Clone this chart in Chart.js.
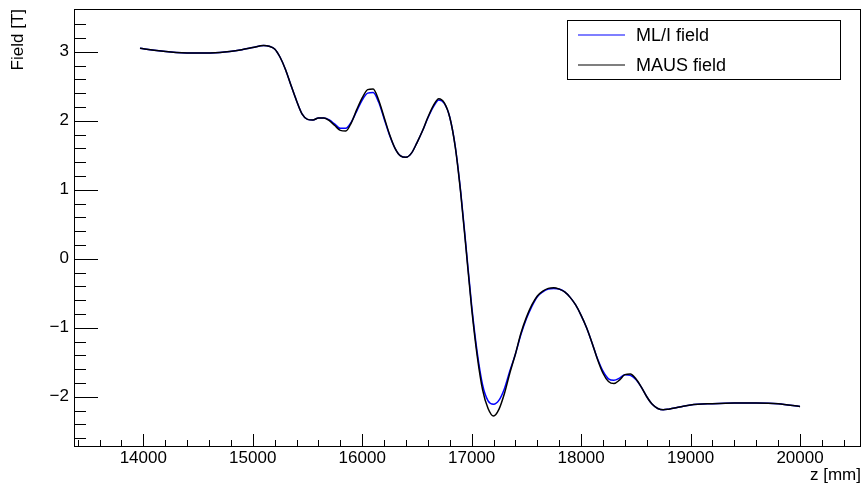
<!DOCTYPE html>
<html>
<head>
<meta charset="utf-8">
<script src="https://cdn.jsdelivr.net/npm/chart.js@4.4.1/dist/chart.umd.min.js"></script>
<style>
  body { margin: 0; background: #fff; }
</style>
</head>
<body>
<canvas id="fieldChart" width="862" height="486"></canvas>
<script>
// z positions [mm] where the field was read
const zPos = [13970, 14100, 14300, 14500, 14700, 14900, 15000, 15100, 15150, 15200,
  15250, 15300, 15350, 15400, 15450, 15500, 15550, 15600, 15650, 15700,
  15750, 15800, 15850, 15900, 15950, 16000, 16050, 16100, 16150, 16200,
  16250, 16300, 16350, 16400, 16450, 16500, 16550, 16600, 16650, 16700,
  16750, 16800, 16850, 16900, 16950, 17000, 17050, 17100, 17150, 17200,
  17250, 17300, 17350, 17400, 17450, 17500, 17550, 17600, 17650, 17700,
  17750, 17800, 17850, 17900, 17950, 18000, 18050, 18100, 18150, 18200,
  18250, 18300, 18350, 18400, 18450, 18500, 18550, 18600, 18650, 18700,
  18750, 18800, 18900, 19000, 19200, 19400, 19600, 19800, 20000];

// MAUS field [T]
const mausField = [3.05, 3.02, 2.99, 2.98, 2.99, 3.03, 3.06, 3.09, 3.08, 3.04,
  2.92, 2.74, 2.51, 2.29, 2.10, 2.02, 2.01, 2.04, 2.04, 2.00,
  1.93, 1.86, 1.85, 1.97, 2.16, 2.33, 2.45, 2.46, 2.30, 2.05,
  1.80, 1.60, 1.49, 1.47, 1.53, 1.68, 1.85, 2.05, 2.22, 2.32,
  2.26, 2.05, 1.62, 0.95, 0.12, -0.72, -1.40, -1.90, -2.17, -2.28,
  -2.18, -1.95, -1.65, -1.38, -1.08, -0.85, -0.67, -0.54, -0.47, -0.43,
  -0.42, -0.44, -0.48, -0.56, -0.67, -0.82, -1.00, -1.22, -1.46, -1.66,
  -1.78, -1.81, -1.76, -1.68, -1.67, -1.74, -1.86, -2.00, -2.11, -2.17,
  -2.19, -2.18, -2.15, -2.12, -2.10, -2.09, -2.09, -2.10, -2.14];

// ML/I field [T]
const mliField = [3.05, 3.02, 2.99, 2.98, 2.99, 3.03, 3.06, 3.09, 3.08, 3.04,
  2.92, 2.74, 2.51, 2.29, 2.10, 2.02, 2.01, 2.04, 2.04, 2.01,
  1.95, 1.89, 1.89, 1.98, 2.14, 2.30, 2.40, 2.41, 2.27, 2.03,
  1.79, 1.60, 1.49, 1.47, 1.53, 1.68, 1.85, 2.04, 2.20, 2.30,
  2.25, 2.05, 1.63, 0.97, 0.15, -0.68, -1.35, -1.83, -2.06, -2.11,
  -2.05, -1.88, -1.62, -1.38, -1.10, -0.87, -0.69, -0.55, -0.48, -0.44,
  -0.43, -0.44, -0.48, -0.56, -0.67, -0.82, -1.00, -1.22, -1.45, -1.63,
  -1.74, -1.76, -1.73, -1.68, -1.69, -1.75, -1.86, -2.00, -2.11, -2.17,
  -2.19, -2.18, -2.15, -2.12, -2.10, -2.09, -2.09, -2.10, -2.14];

const xTicks = [14000, 15000, 16000, 17000, 18000, 19000, 20000];
const yTicks = [-2, -1, 0, 1, 2, 3];

const font = { family: "'Liberation Sans', Arial, sans-serif", size: 17 };

// ROOT style frame, inner tick marks and boxed legend
const rootFrame = {
  id: 'rootFrame',
  afterDraw(chart) {
    const { ctx, chartArea: a, scales: { x, y } } = chart;
    ctx.save();
    ctx.strokeStyle = '#000';
    ctx.lineWidth = 1;
    ctx.beginPath();
    for (let v = 13400; v <= 20400; v += 200) {
      const px = Math.round(x.getPixelForValue(v)) + 0.5;
      const len = v % 1000 === 0 ? 12 : 6;
      ctx.moveTo(px, a.bottom);
      ctx.lineTo(px, a.bottom - len);
    }
    for (let i = -13; i <= 17; i++) {
      const py = Math.round(y.getPixelForValue(i * 0.2)) + 0.5;
      const len = i % 5 === 0 ? 24 : 12;
      ctx.moveTo(a.left, py);
      ctx.lineTo(a.left + len, py);
    }
    ctx.stroke();
    ctx.strokeRect(Math.round(a.left) + 0.5, Math.round(a.top) + 0.5,
      Math.round(a.right - a.left) - 1, Math.round(a.bottom - a.top));

    // legend box
    const lx = 567.5, ly = 20.5, lw = 273, lh = 59;
    ctx.fillStyle = '#fff';
    ctx.fillRect(lx, ly, lw, lh);
    ctx.strokeRect(lx, ly, lw, lh);
    ctx.font = "18px 'Liberation Sans', Arial, sans-serif";
    ctx.textBaseline = 'middle';
    chart.data.datasets.forEach((ds, i) => {
      const rowY = 35 + i * 30;
      ctx.strokeStyle = ds.borderColor;
      ctx.lineWidth = 1.2;
      ctx.beginPath();
      ctx.moveTo(578, rowY);
      ctx.lineTo(625, rowY);
      ctx.stroke();
      ctx.fillStyle = '#000';
      ctx.fillText(ds.label, 636, rowY + 1);
    });
    ctx.restore();
  }
};

const noPad = s => { s.paddingTop = 0; s.paddingBottom = 0; s.paddingLeft = 0; s.paddingRight = 0; };

new Chart(document.getElementById('fieldChart'), {
  type: 'line',
  data: {
    datasets: [
      {
        label: 'ML/I field',
        data: zPos.map((z, i) => ({ x: z, y: mliField[i] })),
        borderColor: '#0000ff',
        borderWidth: 1.5,
        pointRadius: 0,
        cubicInterpolationMode: 'monotone',
        order: 1
      },
      {
        label: 'MAUS field',
        data: zPos.map((z, i) => ({ x: z, y: mausField[i] })),
        borderColor: '#000000',
        borderWidth: 1.5,
        pointRadius: 0,
        cubicInterpolationMode: 'monotone',
        order: 0
      }
    ]
  },
  options: {
    responsive: false,
    animation: false,
    layout: { padding: { top: 9, right: 1, left: 0, bottom: 0 } },
    plugins: { legend: { display: false }, tooltip: { enabled: false } },
    scales: {
      x: {
        type: 'linear',
        min: 13367,
        max: 20557,
        grid: { display: false, drawTicks: false },
        border: { display: false },
        afterBuildTicks: s => { s.ticks = xTicks.map(v => ({ value: v })); },
        afterFit: s => { s.height = 40; noPad(s); },
        ticks: { font, color: '#000', padding: 2, maxRotation: 0, autoSkip: false, callback: v => String(v) },
        title: { display: true, text: 'z [mm]', align: 'end', font, color: '#000', padding: { top: 0, bottom: 0 } }
      },
      y: {
        min: -2.714,
        max: 3.619,
        grid: { display: false, drawTicks: false },
        border: { display: false },
        afterBuildTicks: s => { s.ticks = yTicks.map(v => ({ value: v })); },
        afterFit: s => { s.width = 74; noPad(s); },
        ticks: {
          font, color: '#000', padding: 5,
          callback: v => v < 0 ? '\u2212' + Math.abs(v) : String(v)
        },
        title: { display: true, text: 'Field [T]', align: 'end', font, color: '#000', padding: { top: 8, bottom: 0 } }
      }
    }
  },
  plugins: [rootFrame]
});
</script>
</body>
</html>
